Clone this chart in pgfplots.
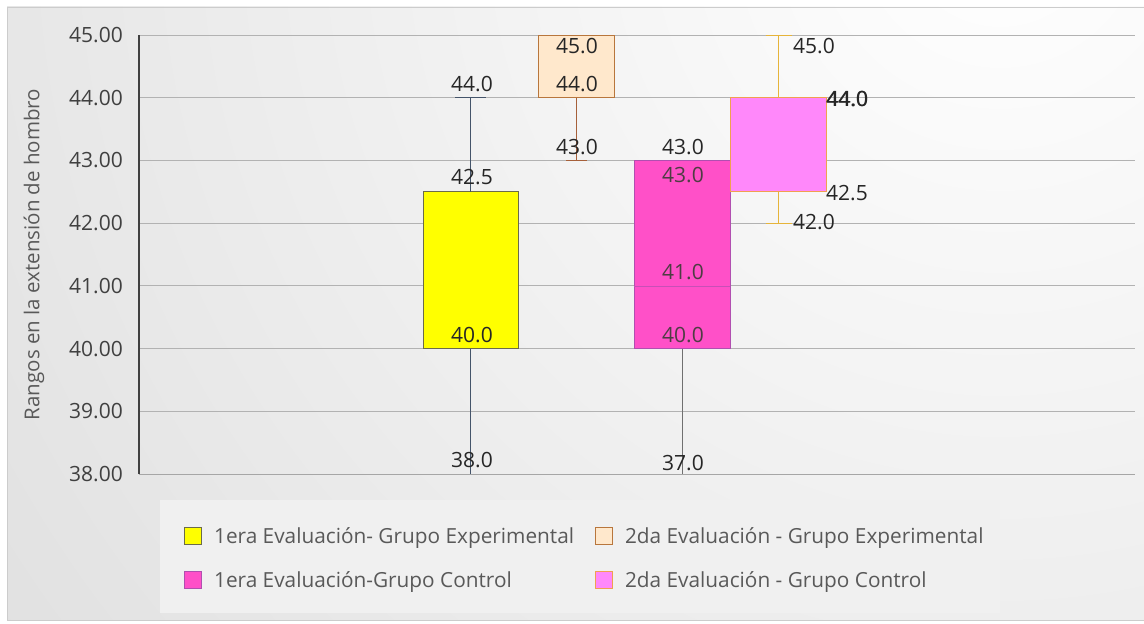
\documentclass[border=0pt]{standalone}
\usepackage{fontspec}
\setmainfont{Open Sans}
\usepackage{pgfplots}
\pgfplotsset{compat=1.18}
\definecolor{yelfill}{HTML}{FFFF00}
\definecolor{yelbord}{HTML}{6B6B4A}
\definecolor{yelwhisk}{HTML}{44546A}
\definecolor{pchfill}{HTML}{FFE8CC}
\definecolor{pchbord}{HTML}{B8763C}
\definecolor{pchwhisk}{HTML}{A6603A}
\definecolor{magfill}{HTML}{FF50C8}
\definecolor{magbord}{HTML}{B04FB0}
\definecolor{magwhisk}{HTML}{707070}
\definecolor{pnkfill}{HTML}{FF88FA}
\definecolor{pnkbord}{HTML}{F0A050}
\definecolor{pnkwhisk}{HTML}{E6B43A}
\definecolor{txt}{HTML}{262626}
\newcommand\lblfont{\fontsize{21}{24}\selectfont}
\newcommand\tickfont{\fontsize{21}{24}\selectfont}
\newcommand\legfont{\fontsize{20.8}{24}\selectfont}
\newcommand\ylabfont{\fontsize{20.5}{24}\selectfont}
\pgfplotsset{sqlegend/.style={legend image code/.code={\draw[##1] (0pt,-8.5pt) rectangle (17pt,8.5pt);}}}
\begin{document}
\begin{tikzpicture}
\useasboundingbox (0pt,0pt) rectangle (1144pt,624pt);
\fill[white] (0pt,0pt) rectangle (1144pt,624pt);
\begin{scope}
\clip (7pt,4pt) rectangle (1144pt,617pt);
\shade[inner color=white, outer color=black!22] (1000pt,700pt) circle (2300pt);
\end{scope}
\draw[black!20] (7pt,4pt) rectangle (1144pt,617pt);
\fill[black!6] (160pt,11pt) rectangle (1000pt,124pt);
\begin{axis}[
  at={(139pt,150pt)}, anchor=south west,
  scale only axis, width=996pt, height=439pt,
  xmin=0, xmax=9.96, ymin=38, ymax=45,
  axis x line=bottom, axis y line=left,
  axis line style={-},
  x axis line style={draw=black!35, line width=0.8pt},
  y axis line style={draw=black!75, line width=2.5pt},
  xtick=\empty, ytick={38,39,40,41,42,43,44,45},
  ymajorgrids, grid style={draw=black!30, line width=0.8pt},
  major tick length=0pt,
  yticklabel={\pgfmathprintnumber[fixed, fixed zerofill, precision=2]{\tick}},
  yticklabel style={font=\tickfont, text=black!75, inner sep=0pt, xshift=-16pt},
  /pgf/number format/assume math mode=true,
  ylabel={Rangos en la extensión de hombro},
  ylabel style={font=\ylabfont, text=black!65, at={(axis description cs:-0.1054,0.5)}, anchor=center},
  legend columns=2,
  legend cell align=left,
  legend style={at={(rel axis cs:0.0452,-0.1162)}, anchor=north west, draw=none, fill=none, inner sep=0pt,
    font=\legfont, text=black!65, row sep=23pt,
    /tikz/every odd column/.append style={column sep=10pt},
    /tikz/every even column/.append style={column sep=19pt}},
]
% ---- 1era Evaluacion - Grupo Experimental: min 38, Q1 40, Q3 42.5, max 44
\addplot[forget plot, fill=yelfill, draw=yelbord, line width=0.9pt] coordinates {(2.84,40) (3.79,40) (3.79,42.5) (2.84,42.5)} -- cycle;
\addplot[forget plot, draw=yelwhisk, line width=0.9pt] coordinates {(3.315,42.5) (3.315,44)};
\addplot[forget plot, draw=yelwhisk, line width=0.9pt] coordinates {(3.315,40) (3.315,38)};
\addplot[forget plot, draw=yelwhisk, line width=0.9pt] coordinates {(3.16,44) (3.47,44)};
\addplot[forget plot, draw=yelwhisk!60!blue, line width=0.9pt] coordinates {(3.15,38) (3.46,38)};
% ---- 2da Evaluacion - Grupo Experimental: min 43, Q1 44, Q3 45, max 45
\addplot[forget plot, fill=pchfill, draw=pchbord, line width=0.9pt] coordinates {(3.99,44) (4.75,44) (4.75,45) (3.99,45)} -- cycle;
\addplot[forget plot, draw=pchwhisk, line width=0.9pt] coordinates {(4.375,44) (4.375,43)};
\addplot[forget plot, draw=pchwhisk, line width=0.9pt] coordinates {(4.27,43) (4.48,43)};
% ---- 1era Evaluacion - Grupo Control: min 37, Q1 40, median 41, Q3 43, max 43
\addplot[forget plot, fill=magfill, draw=magbord, line width=0.9pt] coordinates {(4.95,40) (5.91,40) (5.91,43) (4.95,43)} -- cycle;
\addplot[forget plot, draw=magbord!70!magfill, line width=0.5pt] coordinates {(4.95,41) (5.91,41)};
\addplot[forget plot, draw=magwhisk, line width=0.9pt] coordinates {(5.435,40) (5.435,37)};
% ---- 2da Evaluacion - Grupo Control: min 42, Q1 42.5, Q3 44, max 45
\addplot[forget plot, fill=pnkfill, draw=pnkbord, line width=0.9pt] coordinates {(5.91,42.5) (6.87,42.5) (6.87,44) (5.91,44)} -- cycle;
\addplot[forget plot, draw=pnkwhisk, line width=0.9pt] coordinates {(6.39,44) (6.39,45)};
\addplot[forget plot, draw=pnkwhisk, line width=0.9pt] coordinates {(6.39,42.5) (6.39,42)};
\addplot[forget plot, draw=pnkwhisk, line width=0.9pt] coordinates {(6.265,45) (6.525,45)};
\addplot[forget plot, draw=pnkwhisk, line width=0.9pt] coordinates {(6.265,42) (6.525,42)};

\addlegendimage{sqlegend, fill=yelfill, draw=yelbord, line width=0.9pt}
\addlegendentry{1era Evaluación- Grupo Experimental}
\addlegendimage{sqlegend, fill=pchfill, draw=pchbord, line width=0.9pt}
\addlegendentry{2da Evaluación - Grupo Experimental}
\addlegendimage{sqlegend, fill=magfill, draw=magbord, line width=0.9pt}
\addlegendentry{1era Evaluación-Grupo Control}
\addlegendimage{sqlegend, fill=pnkfill, draw=pnkbord, line width=0.9pt}
\addlegendentry{2da Evaluación - Grupo Control}

\tikzset{lbl/.style={font=\lblfont, text=txt, inner sep=0pt, anchor=center}}
\node[lbl] at (axis cs:3.33,44.22) {44.0};
\node[lbl] at (axis cs:3.33,42.74) {42.5};
\node[lbl] at (axis cs:3.33,40.22) {40.0};
\node[lbl] at (axis cs:3.33,38.22) {38.0};
\node[lbl] at (axis cs:4.38,44.82) {45.0};
\node[lbl] at (axis cs:4.38,44.22) {44.0};
\node[lbl] at (axis cs:4.38,43.21) {43.0};
\node[lbl] at (axis cs:5.44,43.21) {43.0};
\node[lbl, text=black!80!magenta] at (axis cs:5.44,42.77) {43.0};
\node[lbl, text=black!80!magenta] at (axis cs:5.44,41.22) {41.0};
\node[lbl, text=black!80!magenta] at (axis cs:5.44,40.22) {40.0};
\node[lbl] at (axis cs:5.44,38.18) {37.0};
\node[lbl] at (axis cs:6.75,44.82) {45.0};
\node[lbl] at (axis cs:7.08,43.98) {44.0};
\node[lbl, xshift=0.6pt] at (axis cs:7.08,43.98) {44.0};
\node[lbl] at (axis cs:7.08,42.48) {42.5};
\node[lbl] at (axis cs:6.75,42.02) {42.0};
\end{axis}
\end{tikzpicture}
\end{document}
